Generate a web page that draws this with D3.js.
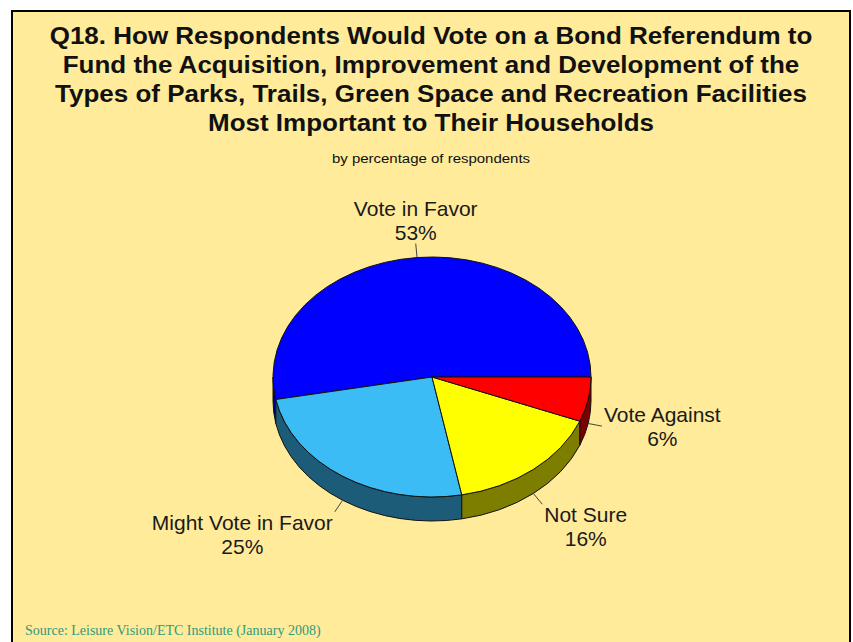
<!DOCTYPE html>
<html>
<head>
<meta charset="utf-8">
<script src="https://cdn.jsdelivr.net/npm/d3@7"></script>
<style>
  body { margin: 0; background: #fff; }
  svg { display: block; }
</style>
</head>
<body>
<script>
// data
var categories = ["Vote in Favor", "Might Vote in Favor", "Not Sure", "Vote Against"]
var values = [53, 25, 16, 6]
var colors = ["#0000FF", "#3BBCF4", "#FFFF00", "#FF0000"]
var titleLines = [
	"Q18. How Respondents Would Vote on a Bond Referendum to",
	"Fund the Acquisition, Improvement and Development of the",
	"Types of Parks, Trails, Green Space and Recreation Facilities",
	"Most Important to Their Households"
]
var subtitle = "by percentage of respondents"
var source = "Source:  Leisure Vision/ETC Institute (January 2008)"

var w = 853
var h = 642
var cx = 432, cy = 377, rx = 159, ry = 120, depth = 24

var svg = d3.select("body")
	.append("svg")
	.attr("width", w)
	.attr("height", h)

// panel
svg.append("rect")
	.attr("x", 12)
	.attr("y", 11)
	.attr("width", 838)
	.attr("height", h + 20)
	.attr("fill", "#FFEB9A")
	.attr("stroke", "#000")
	.attr("stroke-width", 2)

// title (the slide's type is a little wider than Arial, so stretch it)
svg.append("g")
	.selectAll("text")
	.data(titleLines)
	.enter()
	.append("text")
	.attr("transform", (d, i) => "translate(431," + (44 + i * 29) + ") scale(1.13,1)")
	.attr("text-anchor", "middle")
	.style("font-family", "'Liberation Sans', Arial, sans-serif")
	.style("font-weight", "bold")
	.style("font-size", "23px")
	.attr("fill", "#111")
	.text(d => d)

svg.append("text")
	.attr("transform", "translate(431,163) scale(1.11,1)")
	.attr("text-anchor", "middle")
	.style("font-family", "'Liberation Sans', Arial, sans-serif")
	.style("font-size", "13.5px")
	.attr("fill", "#111")
	.text(subtitle)

svg.append("text")
	.attr("x", 25)
	.attr("y", 635)
	.style("font-family", "'Liberation Serif', 'Times New Roman', serif")
	.style("font-size", "14px")
	.attr("fill", "#2F9A7F")
	.text(source)

// pie, starting at 3 o'clock and running counterclockwise
var pie = d3.pie()
	.sort(null)
	.value(d => d)
	.startAngle(Math.PI / 2)
	.endAngle(Math.PI / 2 - 2 * Math.PI)

var arcs = pie(values).map(function(d, i){
	return {
		name: categories[i],
		value: d.value,
		color: colors[i],
		t0: d.startAngle - Math.PI / 2,
		t1: d.endAngle - Math.PI / 2
	}
})

function pt(t, dz){
	return [cx + rx * Math.cos(t), cy + ry * Math.sin(t) + (dz || 0)]
}

function topPath(d){
	var p0 = pt(d.t0), p1 = pt(d.t1)
	var large = Math.abs(d.t0 - d.t1) > Math.PI ? 1 : 0
	return "M" + cx + "," + cy + "L" + p0 + "A" + rx + "," + ry + " 0 " + large + " 0 " + p1 + "Z"
}

var frontRanges = [[-2 * Math.PI, -Math.PI], [0, Math.PI]]

function sidePaths(d){
	var lo0 = Math.min(d.t0, d.t1), hi0 = Math.max(d.t0, d.t1)
	var out = []
	frontRanges.forEach(function(r){
		var lo = Math.max(lo0, r[0]), hi = Math.min(hi0, r[1])
		if(lo < hi){
			out.push("M" + pt(lo) + "A" + rx + "," + ry + " 0 0 1 " + pt(hi)
				+ "L" + pt(hi, depth) + "A" + rx + "," + ry + " 0 0 0 " + pt(lo, depth) + "Z")
		}
	})
	return out
}

var sides = svg.append("g")
arcs.forEach(function(d){
	sidePaths(d).forEach(function(p){
		sides.append("path")
			.attr("d", p)
			.attr("fill", d3.rgb(d.color).darker(2))
			.attr("stroke", "#111")
			.attr("stroke-width", 1)
	})
})

svg.append("g")
	.selectAll("path")
	.data(arcs)
	.enter()
	.append("path")
	.attr("d", topPath)
	.attr("fill", d => d.color)
	.attr("stroke", "#111")
	.attr("stroke-width", 1)
	.attr("stroke-linejoin", "round")

// leader lines and labels
var labels = svg.append("g")
arcs.forEach(function(d){
	var tm = (d.t0 + d.t1) / 2
	var c = Math.cos(tm), s = Math.sin(tm)
	var start = pt(tm, s > 0 ? depth : 0)
	var end = [start[0] + 14 * c, start[1] + 14 * s]

	labels.append("line")
		.attr("x1", start[0]).attr("y1", start[1])
		.attr("x2", end[0]).attr("y2", end[1])
		.attr("stroke", "#444")
		.attr("stroke-width", 1)

	var g = labels.append("g")
	var lines = [d.name, d.value + "%"]
	var texts = g.selectAll("text")
		.data(lines)
		.enter()
		.append("text")
		.attr("x", 0)
		.attr("y", (t, i) => i * 24)
		.attr("text-anchor", "middle")
		.style("font-family", "'Liberation Sans', Arial, sans-serif")
		.style("font-size", "21px")
		.attr("fill", "#1a1a1a")
		.text(t => t)

	var maxW = d3.max(texts.nodes(), n => n.getComputedTextLength())
	var x = end[0], y
	if(c > 0.3) x = end[0] + 2 + maxW / 2
	else if(c < -0.3) x = end[0] - 2 - maxW / 2
	if(s > 0.5) y = end[1] + 18
	else if(s < -0.5) y = end[1] - 28
	else y = end[1] - 4
	g.attr("transform", "translate(" + x + "," + y + ")")
})
</script>
</body>
</html>
